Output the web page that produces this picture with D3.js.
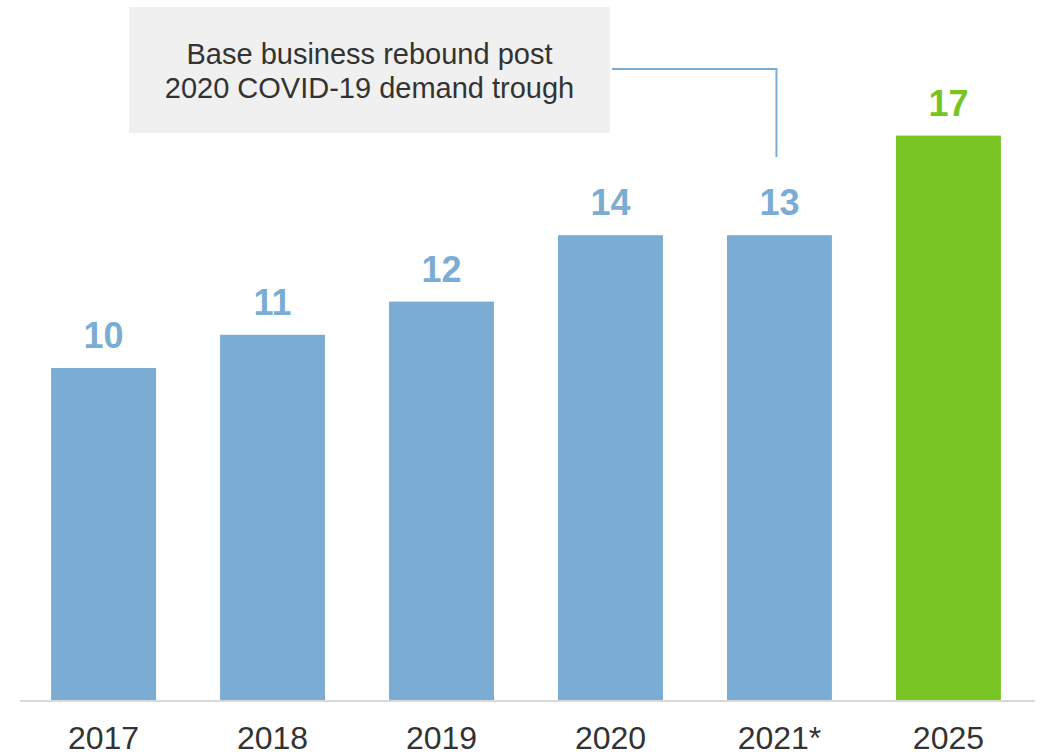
<!DOCTYPE html>
<html>
<head>
<meta charset="utf-8">
<script src="https://cdn.jsdelivr.net/npm/d3@7"></script>
<style>
  body { margin: 0; background: #fff; }
  svg { display: block; font-family: "Liberation Sans", Arial, sans-serif; }
</style>
</head>
<body>
<svg id="chart" width="1043" height="754"></svg>
<script>
// data
var years = ["2017", "2018", "2019", "2020", "2021*", "2025"];
var values = [10, 11, 12, 14, 14, 17];          // bar heights
var valueLabels = ["10", "11", "12", "14", "13", "17"]; // printed labels
var noteLines = ["Base business rebound post", "2020 COVID-19 demand trough"];
var noteYear = "2021*";

var blue = "#7BADD4", green = "#78C423";

var svg = d3.select("#chart");
var baseY = 700;

var x = d3.scaleBand()
    .domain(years)
    .range([19, 1033])
    .paddingInner(0.379)
    .paddingOuter(0.19);

var y = d3.scaleLinear()
    .domain([0, 20])
    .range([baseY, baseY - 20 * 33.2]);

function colorOf(d, i) {
    return i === years.length - 1 ? green : blue;
}

// bars
svg.selectAll("rect.bar")
    .data(values)
    .enter()
    .append("rect")
    .attr("class", "bar")
    .attr("x", function(d, i) { return x(years[i]); })
    .attr("y", function(d) { return y(d); })
    .attr("width", x.bandwidth())
    .attr("height", function(d) { return y(0) - y(d); })
    .attr("fill", colorOf);

// value labels
svg.selectAll("text.val")
    .data(values)
    .enter()
    .append("text")
    .attr("class", "val")
    .attr("x", function(d, i) { return x(years[i]) + x.bandwidth() / 2; })
    .attr("y", function(d) { return y(d) - 20; })
    .attr("text-anchor", "middle")
    .attr("font-size", 36)
    .attr("font-weight", "bold")
    .attr("fill", colorOf)
    .text(function(d, i) { return valueLabels[i]; });

// baseline
svg.append("line")
    .attr("x1", 20).attr("x2", 1035)
    .attr("y1", baseY + 1).attr("y2", baseY + 1)
    .attr("stroke", "#D9D9D9")
    .attr("stroke-width", 2);

// x axis labels
var xAxis = d3.axisBottom(x).tickSize(0).tickPadding(0);
var gx = svg.append("g")
    .attr("transform", "translate(0," + baseY + ")")
    .call(xAxis);
gx.select(".domain").remove();
gx.selectAll("text")
    .attr("y", 49)
    .attr("dy", 0)
    .attr("font-size", 32)
    .attr("font-family", "Liberation Sans, Arial, sans-serif")
    .attr("fill", "#333");

// annotation box
var box = { x: 129, y: 7, w: 481, h: 126 };
svg.append("rect")
    .attr("x", box.x).attr("y", box.y)
    .attr("width", box.w).attr("height", box.h)
    .attr("fill", "#F0F0F0");

svg.selectAll("text.note")
    .data(noteLines)
    .enter()
    .append("text")
    .attr("class", "note")
    .attr("x", box.x + box.w / 2)
    .attr("y", function(d, i) { return 64 + i * 34; })
    .attr("text-anchor", "middle")
    .attr("font-size", 29)
    .attr("fill", "#333")
    .text(function(d) { return d; });

// connector to the 2021 bar
var cx = x(noteYear) + x.bandwidth() / 2 - 3;
svg.append("path")
    .attr("d", "M" + (box.x + box.w + 2) + ",69 H" + cx + " V157")
    .attr("fill", "none")
    .attr("stroke", blue)
    .attr("stroke-width", 2);
</script>
</body>
</html>
